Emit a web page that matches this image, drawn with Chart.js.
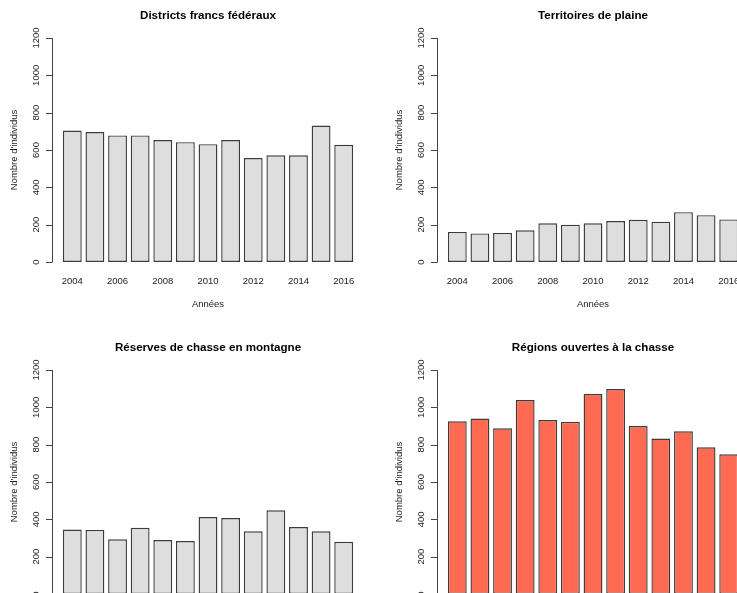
<!DOCTYPE html>
<html>
<head>
<meta charset="utf-8">
<script src="https://cdn.jsdelivr.net/npm/chart.js@4/dist/chart.umd.min.js"></script>
<style>
  html, body { margin: 0; padding: 0; background: #fff; overflow: hidden; }
  #wrap { position: relative; width: 737px; height: 593px; overflow: hidden; background: #fff; }
  #wrap canvas { position: absolute; }
</style>
</head>
<body>
<div id="wrap">
  <canvas id="p1" width="385" height="332" style="left:0;top:0"></canvas>
  <canvas id="p2" width="385" height="332" style="left:385px;top:0"></canvas>
  <canvas id="p3" width="385" height="332" style="left:0;top:332px"></canvas>
  <canvas id="p4" width="385" height="332" style="left:385px;top:332px"></canvas>
</div>
<script>
// Effectifs annuels par type de territoire
const years = ['2004','2005','2006','2007','2008','2009','2010','2011','2012','2013','2014','2015','2016'];
const districtsFrancs    = [704, 696, 678, 678, 653, 642, 631, 653, 557, 572, 572, 731, 628];
const territoiresPlaine  = [161, 153, 156, 170, 207, 200, 207, 219, 226, 216, 267, 251, 228];
const reservesMontagne   = [345, 343, 293, 355, 289, 284, 412, 407, 336, 448, 359, 336, 280];
const regionsOuvertes    = [925, 940, 888, 1039, 932, 922, 1071, 1098, 900, 833, 872, 786, 748];
const yTicks = [0, 200, 400, 600, 800, 1000, 1200];

const FONT = '"Liberation Sans", Arial, Helvetica, sans-serif';

// Axes, titres et étiquettes dessinés à la manière de R (axe gauche décalé, libellés verticaux)
const baseGraphics = {
  id: 'baseGraphics',
  afterDraw(chart, args, opts) {
    const ctx = chart.ctx;
    const area = chart.chartArea;
    const xs = chart.scales.x;
    const ys = chart.scales.y;
    const axisX = area.left - 9;
    ctx.save();

    // titre
    ctx.fillStyle = '#000';
    ctx.font = 'bold 11.6px ' + FONT;
    ctx.textAlign = 'center';
    ctx.textBaseline = 'middle';
    ctx.fillText(opts.title, (area.left + area.right) / 2, 16);

    // axe des ordonnées
    const y0 = ys.getPixelForValue(yTicks[0]);
    const y1 = ys.getPixelForValue(yTicks[yTicks.length - 1]);
    ctx.strokeStyle = '#444';
    ctx.lineWidth = 1;
    ctx.beginPath();
    ctx.moveTo(axisX + 0.5, y0);
    ctx.lineTo(axisX + 0.5, y1);
    yTicks.forEach(v => {
      const py = Math.round(ys.getPixelForValue(v)) + 0.5;
      ctx.moveTo(axisX + 0.5, py);
      ctx.lineTo(axisX - 6, py);
    });
    ctx.stroke();

    ctx.font = '9.5px ' + FONT;
    ctx.fillStyle = '#222';
    yTicks.forEach(v => {
      const py = ys.getPixelForValue(v);
      ctx.save();
      ctx.translate(axisX - 16, py);
      ctx.rotate(-Math.PI / 2);
      ctx.textAlign = 'center';
      ctx.textBaseline = 'middle';
      ctx.fillText(String(v), 0, 0);
      ctx.restore();
    });

    // libellé de l'axe vertical
    ctx.save();
    ctx.translate(14, (area.top + area.bottom) / 2);
    ctx.rotate(-Math.PI / 2);
    ctx.textAlign = 'center';
    ctx.textBaseline = 'middle';
    ctx.fillText("Nombre d'individus", 0, 0);
    ctx.restore();

    // années (une sur deux, comme le fait R quand la place manque)
    ctx.textAlign = 'center';
    ctx.textBaseline = 'middle';
    chart.data.labels.forEach((lab, i) => {
      if (i % 2 === 0) {
        ctx.fillText(lab, xs.getPixelForValue(i), area.bottom + 19);
      }
    });
    ctx.fillText('Années', (area.left + area.right) / 2, area.bottom + 42);

    ctx.restore();
  }
};

function makePanel(id, title, values, fill) {
  return new Chart(document.getElementById(id), {
    type: 'bar',
    data: {
      labels: years,
      datasets: [{
        data: values,
        backgroundColor: fill,
        borderColor: '#3c3c3c',
        borderWidth: 1.4,
        borderSkipped: false,
        barPercentage: 0.8333,
        categoryPercentage: 1.0
      }]
    },
    options: {
      responsive: false,
      animation: false,
      devicePixelRatio: 1,
      layout: { padding: { left: 61, right: 30, top: 38, bottom: 70 } },
      scales: {
        x: { display: false },
        y: { display: false, min: 0, max: 1200 }
      },
      plugins: {
        legend: { display: false },
        tooltip: { enabled: false },
        title: { display: false },
        baseGraphics: { title: title }
      }
    },
    plugins: [baseGraphics]
  });
}

makePanel('p1', 'Districts francs fédéraux', districtsFrancs, '#dedede');
makePanel('p2', 'Territoires de plaine', territoiresPlaine, '#dedede');
makePanel('p3', 'Réserves de chasse en montagne', reservesMontagne, '#dedede');
makePanel('p4', 'Régions ouvertes à la chasse', regionsOuvertes, '#ff6b52');
</script>
</body>
</html>
